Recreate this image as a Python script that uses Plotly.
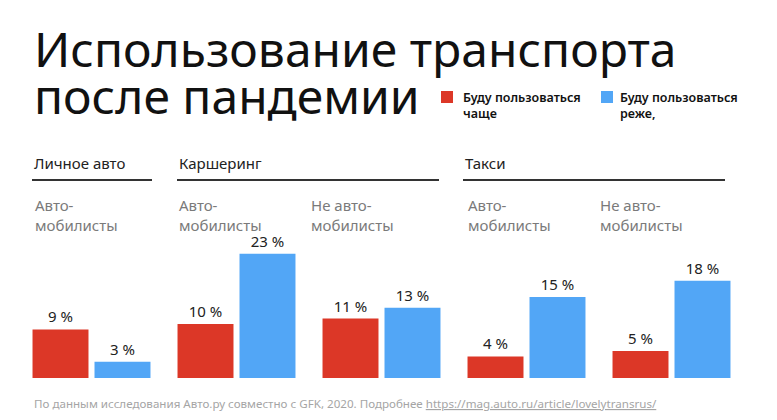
import plotly.graph_objects as go

# ---- data ----
sections = ["Личное авто", "Каршеринг", "Такси"]
groups = ["Личное авто: Автомобилисты", "Каршеринг: Автомобилисты",
          "Каршеринг: Не автомобилисты", "Такси: Автомобилисты", "Такси: Не автомобилисты"]
group_labels = ["Авто-<br>мобилисты", "Авто-<br>мобилисты", "Не авто-<br>мобилисты",
                "Авто-<br>мобилисты", "Не авто-<br>мобилисты"]
more_often = [9, 10, 11, 4, 5]
less_often = [3, 23, 13, 15, 18]
series_names = ["Буду пользоваться<br>чаще", "Буду пользоваться<br>реже,"]
title_lines = ["Использование транспорта", "после пандемии"]
source = ("По данным исследования Авто.ру совместно с GFK, 2020. Подробнее "
          "<u>https://mag.auto.ru/article/lovelytransrus/</u>")

RED = "#DC3727"
BLUE = "#52A6F6"
FONT = "Noto Sans"

W_PX, H_PX = 777, 420
L, R, T, B = 19, 33, 140, 42
PW, PH = W_PX - L - R, H_PX - T - B


def px(x):
    return (x - L) / PW


def py(y):
    return (T + PH - y) / PH


fig = go.Figure()
for vals, col, name in [(more_often, RED, series_names[0]), (less_often, BLUE, series_names[1])]:
    fig.add_trace(go.Bar(
        x=groups, y=vals, name=name, marker=dict(color=col, line=dict(width=0)),
        texttemplate="%{y} %", textposition="outside", cliponaxis=False,
        textfont=dict(family=FONT, size=15, color="#222222"),
    ))

ann = []
# title
ann.append(dict(text=title_lines[0], x=px(32), y=py(48), xanchor="left", yanchor="middle",
                font=dict(family=FONT, size=48, color="#111111")))
ann.append(dict(text=title_lines[1], x=px(32), y=py(95), xanchor="left", yanchor="middle",
                font=dict(family=FONT, size=48, color="#111111")))
# legend
for sx, tx, col, name in [(441, 461, RED, series_names[0]), (601, 618, BLUE, series_names[1])]:
    ann.append(dict(text=name, x=px(tx), y=py(105), xanchor="left", yanchor="middle", align="left",
                    font=dict(family=FONT, size=12.5, color="#111111", weight=600)))
# section headers + rules
sec_x = [(32, 152), (177, 439), (463, 725)]
shapes = []
for name, (x0, x1) in zip(sections, sec_x):
    ann.append(dict(text=name, x=px(x0), y=py(163), xanchor="left", yanchor="middle",
                    font=dict(family=FONT, size=15, color="#222222")))
    shapes.append(dict(type="line", xref="paper", yref="paper", x0=px(x0), x1=px(x1),
                       y0=py(180), y1=py(180), line=dict(color="#333333", width=2)))
# group labels
grp_x = [33, 177, 309, 466, 598]
for lab, gx in zip(group_labels, grp_x):
    ann.append(dict(text=lab, x=px(gx), y=py(215), xanchor="left", yanchor="middle", align="left",
                    font=dict(family=FONT, size=15, color="#7a7a7a")))
# source
ann.append(dict(text=source, x=px(32), y=py(403), xanchor="left", yanchor="middle",
                font=dict(family=FONT, size=11.6, color="#a5a5a5")))
# legend squares
for sx, col in [(441, RED), (601, BLUE)]:
    shapes.append(dict(type="rect", xref="paper", yref="paper", x0=px(sx), x1=px(sx + 12),
                       y0=py(103), y1=py(91), fillcolor=col, line=dict(width=0)))

for a in ann:
    a.update(xref="paper", yref="paper", showarrow=False)

fig.update_layout(
    width=W_PX, height=H_PX, margin=dict(l=L, r=R, t=T, b=B),
    paper_bgcolor="white", plot_bgcolor="white",
    barmode="group", bargap=0.145, bargroupgap=0.097,
    showlegend=False,
    xaxis=dict(visible=False, range=[-0.5, 4.5]),
    yaxis=dict(visible=False, range=[0, PH / 5.4]),
    annotations=ann, shapes=shapes,
    font=dict(family=FONT),
)

fig.write_html("out.html", config={"displayModeBar": False},
               post_script="document.body.style.margin='0';")
